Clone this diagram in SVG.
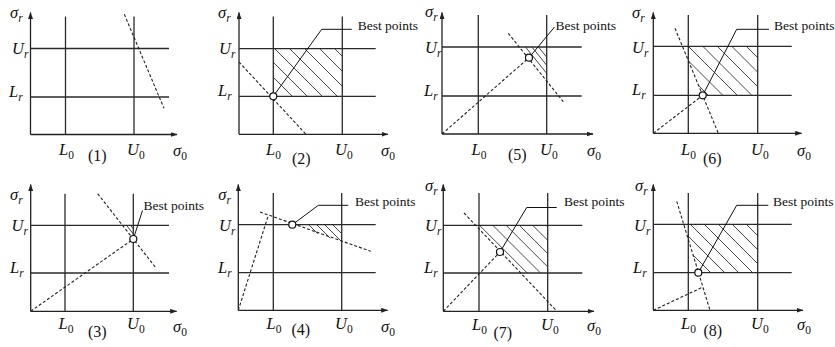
<svg xmlns="http://www.w3.org/2000/svg" width="835" height="347" viewBox="0 0 835 347">
<style>
.ax{stroke:#222;stroke-width:1.3;fill:none}
.g{stroke:#2a2a2a;stroke-width:1.3}
.d{stroke:#222;stroke-width:1.1;stroke-dasharray:3 2;fill:none}
.h{stroke:#333;stroke-width:0.9}
.ld{stroke:#111;stroke-width:1;fill:none}
.pt{fill:#fff;stroke:#111;stroke-width:1.2}
text{font-family:"Liberation Serif","Times New Roman",serif;fill:#111}
.lb{font-size:16.5px}
.i{font-style:italic}
.sb{font-size:11.5px}
.bp{font-size:13.5px}
.num{font-size:16px}
</style>
<defs>
<marker id="ah" markerUnits="userSpaceOnUse" markerWidth="7" markerHeight="5" refX="6.5" refY="2.5" orient="auto"><path d="M0,0 L7,2.5 L0,5 z" fill="#222"/></marker>
<clipPath id="c2"><rect x="273.3" y="48.7" width="69" height="47.6"/></clipPath>
<clipPath id="c5"><polygon points="519.6,47 546.7,47 546.7,81.1"/></clipPath>
<clipPath id="c6"><polygon points="688.3,46.3 757.7,46.3 757.7,95.3 702.7,95.3 688.3,60.6"/></clipPath>
<clipPath id="c3"><polygon points="122.5,225.3 133.3,225.3 133.3,239"/></clipPath>
<clipPath id="c4"><polygon points="292.3,224.7 341.7,224.7 341.7,242.2"/></clipPath>
<clipPath id="c7"><polygon points="479,225.3 547.7,225.3 547.7,273 520.7,273 479,228.9"/></clipPath>
<clipPath id="c8"><polygon points="688.3,224.3 757.7,224.3 757.7,272.7 698.5,272.7 688.3,239.2"/></clipPath>
</defs>

<g id="panel1">
<line class="ax" x1="30.5" y1="134.5" x2="30.5" y2="12.5" marker-end="url(#ah)"/>
<line class="ax" x1="30.5" y1="134.5" x2="177" y2="134.5" marker-end="url(#ah)"/>
<line class="g" x1="65.5" y1="16.5" x2="65.5" y2="134.5"/>
<line class="g" x1="134" y1="16.5" x2="134" y2="134.5"/>
<line class="g" x1="30.5" y1="48.5" x2="169" y2="48.5"/>
<line class="g" x1="30.5" y1="97" x2="169" y2="97"/>
<line class="d" x1="124.3" y1="14.3" x2="164" y2="108.3"/>
<text class="lb i" x="10" y="18">σ<tspan class="sb" dy="4">r</tspan></text>
<text class="lb i" x="12" y="54">U<tspan class="sb" dy="4">r</tspan></text>
<text class="lb i" x="9" y="97">L<tspan class="sb" dy="4">r</tspan></text>
<text class="lb" x="59" y="155"><tspan class="i">L</tspan><tspan class="sb" dy="4">0</tspan></text>
<text class="lb" x="127" y="155"><tspan class="i">U</tspan><tspan class="sb" dy="4">0</tspan></text>
<text class="lb" x="173" y="156"><tspan class="i">σ</tspan><tspan class="sb" dy="4">0</tspan></text>
<text class="num" x="88" y="161">(1)</text>
</g>

<g id="panel2">
<g clip-path="url(#c2)">
<line class="h" x1="229.7" y1="48.7" x2="277.3" y2="96.3"/>
<line class="h" x1="244.7" y1="48.7" x2="292.3" y2="96.3"/>
<line class="h" x1="259.7" y1="48.7" x2="307.3" y2="96.3"/>
<line class="h" x1="274.7" y1="48.7" x2="322.3" y2="96.3"/>
<line class="h" x1="289.7" y1="48.7" x2="337.3" y2="96.3"/>
<line class="h" x1="304.7" y1="48.7" x2="352.3" y2="96.3"/>
<line class="h" x1="319.7" y1="48.7" x2="367.3" y2="96.3"/>
<line class="h" x1="334.7" y1="48.7" x2="382.3" y2="96.3"/>
</g>
<line class="ax" x1="239" y1="134.3" x2="239" y2="12.5" marker-end="url(#ah)"/>
<line class="ax" x1="239" y1="134.3" x2="388" y2="134.3" marker-end="url(#ah)"/>
<line class="g" x1="273.3" y1="16.5" x2="273.3" y2="134.3"/>
<line class="g" x1="342.3" y1="16.5" x2="342.3" y2="134.3"/>
<line class="g" x1="239" y1="48.7" x2="375.7" y2="48.7"/>
<line class="g" x1="239" y1="96.3" x2="375.7" y2="96.3"/>
<line class="d" x1="239" y1="62" x2="306" y2="134.3"/>
<polyline class="ld" points="273.3,96.3 321.7,29.3 351.7,29.3"/>
<circle class="pt" cx="273.3" cy="96.3" r="3.5"/>
<text class="bp" x="357.7" y="30">Best points</text>
<text class="lb i" x="218" y="18">σ<tspan class="sb" dy="4">r</tspan></text>
<text class="lb i" x="219" y="54">U<tspan class="sb" dy="4">r</tspan></text>
<text class="lb i" x="218" y="96">L<tspan class="sb" dy="4">r</tspan></text>
<text class="lb" x="266" y="155"><tspan class="i">L</tspan><tspan class="sb" dy="4">0</tspan></text>
<text class="lb" x="335" y="155"><tspan class="i">U</tspan><tspan class="sb" dy="4">0</tspan></text>
<text class="lb" x="381" y="156"><tspan class="i">σ</tspan><tspan class="sb" dy="4">0</tspan></text>
<text class="num" x="292" y="164">(2)</text>
</g>

<g id="panel5">
<g clip-path="url(#c5)">
<line class="h" x1="521.5" y1="42.02" x2="565.5" y2="96.76"/>
<line class="h" x1="528" y1="42.02" x2="572" y2="96.76"/>
<line class="h" x1="534.5" y1="42.02" x2="578.5" y2="96.76"/>
</g>
<line class="ax" x1="442" y1="134" x2="442" y2="12.5" marker-end="url(#ah)"/>
<line class="ax" x1="442" y1="134" x2="593" y2="134" marker-end="url(#ah)"/>
<line class="g" x1="478.3" y1="15" x2="478.3" y2="134"/>
<line class="g" x1="546.7" y1="15" x2="546.7" y2="134"/>
<line class="g" x1="442" y1="47" x2="581.7" y2="47"/>
<line class="g" x1="442" y1="96" x2="581.7" y2="96"/>
<line class="d" x1="442" y1="134" x2="529" y2="57.7"/>
<line class="d" x1="508.3" y1="33.3" x2="563.3" y2="101.7"/>
<polyline class="ld" points="529,57.7 554.5,27"/>
<circle class="pt" cx="529" cy="57.7" r="3.5"/>
<text class="bp" x="555.5" y="29.5">Best points</text>
<text class="lb i" x="425" y="17">σ<tspan class="sb" dy="4">r</tspan></text>
<text class="lb i" x="425" y="53">U<tspan class="sb" dy="4">r</tspan></text>
<text class="lb i" x="424" y="96">L<tspan class="sb" dy="4">r</tspan></text>
<text class="lb" x="471.5" y="155"><tspan class="i">L</tspan><tspan class="sb" dy="4">0</tspan></text>
<text class="lb" x="540" y="155"><tspan class="i">U</tspan><tspan class="sb" dy="4">0</tspan></text>
<text class="lb" x="587" y="156"><tspan class="i">σ</tspan><tspan class="sb" dy="4">0</tspan></text>
<text class="num" x="508" y="160">(5)</text>
</g>

<g id="panel6">
<g clip-path="url(#c6)">
<line class="h" x1="659.3" y1="46.3" x2="708.3" y2="95.3"/>
<line class="h" x1="673.8" y1="46.3" x2="722.8" y2="95.3"/>
<line class="h" x1="688.3" y1="46.3" x2="737.3" y2="95.3"/>
<line class="h" x1="702.8" y1="46.3" x2="751.8" y2="95.3"/>
<line class="h" x1="717.3" y1="46.3" x2="766.3" y2="95.3"/>
<line class="h" x1="731.8" y1="46.3" x2="780.8" y2="95.3"/>
<line class="h" x1="746.3" y1="46.3" x2="795.3" y2="95.3"/>
</g>
<line class="ax" x1="653.3" y1="133.3" x2="653.3" y2="12.5" marker-end="url(#ah)"/>
<line class="ax" x1="653.3" y1="133.3" x2="801.7" y2="133.3" marker-end="url(#ah)"/>
<line class="g" x1="688.3" y1="15" x2="688.3" y2="133.3"/>
<line class="g" x1="757.7" y1="15" x2="757.7" y2="133.3"/>
<line class="g" x1="653.3" y1="46.3" x2="791.7" y2="46.3"/>
<line class="g" x1="653.3" y1="95.3" x2="791.7" y2="95.3"/>
<line class="d" x1="675" y1="28.3" x2="718.3" y2="133.3"/>
<line class="d" x1="653.3" y1="133.3" x2="702.7" y2="95.3"/>
<polyline class="ld" points="702.7,95.3 736.7,29.3 769,29.3"/>
<circle class="pt" cx="702.7" cy="95.3" r="3.5"/>
<text class="bp" x="774" y="30">Best points</text>
<text class="lb i" x="632" y="18">σ<tspan class="sb" dy="4">r</tspan></text>
<text class="lb i" x="632" y="53">U<tspan class="sb" dy="4">r</tspan></text>
<text class="lb i" x="632" y="95">L<tspan class="sb" dy="4">r</tspan></text>
<text class="lb" x="681" y="155"><tspan class="i">L</tspan><tspan class="sb" dy="4">0</tspan></text>
<text class="lb" x="751" y="155"><tspan class="i">U</tspan><tspan class="sb" dy="4">0</tspan></text>
<text class="lb" x="797" y="156"><tspan class="i">σ</tspan><tspan class="sb" dy="4">0</tspan></text>
<text class="num" x="703" y="164">(6)</text>
</g>

<g id="panel3">
<g clip-path="url(#c3)">
<line class="h" x1="126.5" y1="225.3" x2="138.5" y2="240.6"/>
<line class="h" x1="130.5" y1="225.3" x2="142.5" y2="240.6"/>
</g>
<line class="ax" x1="30.7" y1="311.3" x2="30.7" y2="184.5" marker-end="url(#ah)"/>
<line class="ax" x1="30.7" y1="311.3" x2="176.7" y2="311.3" marker-end="url(#ah)"/>
<line class="g" x1="65" y1="193.7" x2="65" y2="311.3"/>
<line class="g" x1="133.3" y1="193.7" x2="133.3" y2="311.3"/>
<line class="g" x1="30.7" y1="225.3" x2="169" y2="225.3"/>
<line class="g" x1="30.7" y1="273" x2="169" y2="273"/>
<line class="d" x1="30.7" y1="311.3" x2="133.3" y2="239"/>
<line class="d" x1="97.7" y1="193.7" x2="156" y2="268"/>
<polyline class="ld" points="133.3,239 142.5,210.5"/>
<circle class="pt" cx="133.3" cy="239" r="3.5"/>
<text class="bp" x="143.5" y="209.5">Best points</text>
<text class="lb i" x="10" y="200">σ<tspan class="sb" dy="4">r</tspan></text>
<text class="lb i" x="11.5" y="231">U<tspan class="sb" dy="4">r</tspan></text>
<text class="lb i" x="10" y="273">L<tspan class="sb" dy="4">r</tspan></text>
<text class="lb" x="58.5" y="329"><tspan class="i">L</tspan><tspan class="sb" dy="4">0</tspan></text>
<text class="lb" x="127" y="329"><tspan class="i">U</tspan><tspan class="sb" dy="4">0</tspan></text>
<text class="lb" x="173" y="332"><tspan class="i">σ</tspan><tspan class="sb" dy="4">0</tspan></text>
<text class="num" x="88" y="337">(3)</text>
</g>

<g id="panel4">
<g clip-path="url(#c4)">
<line class="h" x1="308.7" y1="224.7" x2="329" y2="245"/>
<line class="h" x1="316.7" y1="224.7" x2="337" y2="245"/>
<line class="h" x1="324.7" y1="224.7" x2="345" y2="245"/>
<line class="h" x1="332.7" y1="224.7" x2="353" y2="245"/>
<line class="h" x1="340.7" y1="224.7" x2="361" y2="245"/>
</g>
<line class="ax" x1="238.3" y1="310.3" x2="238.3" y2="184.5" marker-end="url(#ah)"/>
<line class="ax" x1="238.3" y1="310.3" x2="387.7" y2="310.3" marker-end="url(#ah)"/>
<line class="g" x1="273.3" y1="193" x2="273.3" y2="310.3"/>
<line class="g" x1="341.7" y1="193" x2="341.7" y2="310.3"/>
<line class="g" x1="238.3" y1="224.7" x2="375.7" y2="224.7"/>
<line class="g" x1="238.3" y1="272.7" x2="375.7" y2="272.7"/>
<line class="d" x1="260" y1="212" x2="370.7" y2="251.3"/>
<line class="d" x1="238.3" y1="310.3" x2="268.3" y2="215.3"/>
<polyline class="ld" points="292.3,224.7 318.3,205.3 348.3,205.3"/>
<circle class="pt" cx="292.3" cy="224.7" r="3.5"/>
<text class="bp" x="355" y="206">Best points</text>
<text class="lb i" x="218.3" y="200">σ<tspan class="sb" dy="4">r</tspan></text>
<text class="lb i" x="219" y="230.5">U<tspan class="sb" dy="4">r</tspan></text>
<text class="lb i" x="218" y="272.7">L<tspan class="sb" dy="4">r</tspan></text>
<text class="lb" x="266.5" y="329"><tspan class="i">L</tspan><tspan class="sb" dy="4">0</tspan></text>
<text class="lb" x="335" y="329"><tspan class="i">U</tspan><tspan class="sb" dy="4">0</tspan></text>
<text class="lb" x="381" y="331.5"><tspan class="i">σ</tspan><tspan class="sb" dy="4">0</tspan></text>
<text class="num" x="291.5" y="335">(4)</text>
</g>

<g id="panel7">
<g clip-path="url(#c7)">
<line class="h" x1="479.5" y1="225.3" x2="527.2" y2="273"/>
<line class="h" x1="492.8" y1="225.3" x2="540.5" y2="273"/>
<line class="h" x1="506.1" y1="225.3" x2="553.8" y2="273"/>
<line class="h" x1="519.4" y1="225.3" x2="567.1" y2="273"/>
<line class="h" x1="532.7" y1="225.3" x2="580.4" y2="273"/>
<line class="h" x1="546" y1="225.3" x2="593.7" y2="273"/>
</g>
<line class="ax" x1="443.3" y1="311.3" x2="443.3" y2="184.5" marker-end="url(#ah)"/>
<line class="ax" x1="443.3" y1="311.3" x2="594" y2="311.3" marker-end="url(#ah)"/>
<line class="g" x1="479" y1="193" x2="479" y2="311.3"/>
<line class="g" x1="547.7" y1="193" x2="547.7" y2="311.3"/>
<line class="g" x1="443.3" y1="225.3" x2="582.3" y2="225.3"/>
<line class="g" x1="443.3" y1="273" x2="582.3" y2="273"/>
<line class="d" x1="443.3" y1="311.3" x2="500" y2="252"/>
<line class="d" x1="464" y1="213" x2="556" y2="310.3"/>
<polyline class="ld" points="500,252 526.7,207.5 556.7,207.5"/>
<circle class="pt" cx="500" cy="252" r="3.5"/>
<text class="bp" x="564" y="206">Best points</text>
<text class="lb i" x="425" y="190.5">σ<tspan class="sb" dy="4">r</tspan></text>
<text class="lb i" x="425" y="231">U<tspan class="sb" dy="4">r</tspan></text>
<text class="lb i" x="424" y="273">L<tspan class="sb" dy="4">r</tspan></text>
<text class="lb" x="472" y="330"><tspan class="i">L</tspan><tspan class="sb" dy="4">0</tspan></text>
<text class="lb" x="541" y="330"><tspan class="i">U</tspan><tspan class="sb" dy="4">0</tspan></text>
<text class="lb" x="587" y="331"><tspan class="i">σ</tspan><tspan class="sb" dy="4">0</tspan></text>
<text class="num" x="493.5" y="338">(7)</text>
</g>

<g id="panel8">
<g clip-path="url(#c8)">
<line class="h" x1="662.3" y1="224.3" x2="710.7" y2="272.7"/>
<line class="h" x1="676.3" y1="224.3" x2="724.7" y2="272.7"/>
<line class="h" x1="690.3" y1="224.3" x2="738.7" y2="272.7"/>
<line class="h" x1="704.3" y1="224.3" x2="752.7" y2="272.7"/>
<line class="h" x1="718.3" y1="224.3" x2="766.7" y2="272.7"/>
<line class="h" x1="732.3" y1="224.3" x2="780.7" y2="272.7"/>
<line class="h" x1="746.3" y1="224.3" x2="794.7" y2="272.7"/>
</g>
<line class="ax" x1="653.3" y1="310.3" x2="653.3" y2="184.5" marker-end="url(#ah)"/>
<line class="ax" x1="653.3" y1="310.3" x2="803" y2="310.3" marker-end="url(#ah)"/>
<line class="g" x1="688.3" y1="193" x2="688.3" y2="310.3"/>
<line class="g" x1="757.7" y1="193" x2="757.7" y2="310.3"/>
<line class="g" x1="653.3" y1="224.3" x2="791.7" y2="224.3"/>
<line class="g" x1="653.3" y1="272.7" x2="791.7" y2="272.7"/>
<line class="d" x1="676.7" y1="201.3" x2="710" y2="310.3"/>
<line class="d" x1="653.3" y1="310.3" x2="703" y2="287"/>
<polyline class="ld" points="698.3,272.7 736.7,205.3 768.3,205.3"/>
<circle class="pt" cx="698.3" cy="272.7" r="3.5"/>
<text class="bp" x="773" y="206">Best points</text>
<text class="lb i" x="635" y="191">σ<tspan class="sb" dy="4">r</tspan></text>
<text class="lb i" x="634" y="230.5">U<tspan class="sb" dy="4">r</tspan></text>
<text class="lb i" x="633" y="272.7">L<tspan class="sb" dy="4">r</tspan></text>
<text class="lb" x="681" y="329"><tspan class="i">L</tspan><tspan class="sb" dy="4">0</tspan></text>
<text class="lb" x="751" y="329"><tspan class="i">U</tspan><tspan class="sb" dy="4">0</tspan></text>
<text class="lb" x="797" y="330"><tspan class="i">σ</tspan><tspan class="sb" dy="4">0</tspan></text>
<text class="num" x="703.5" y="336">(8)</text>
</g>
</svg>
